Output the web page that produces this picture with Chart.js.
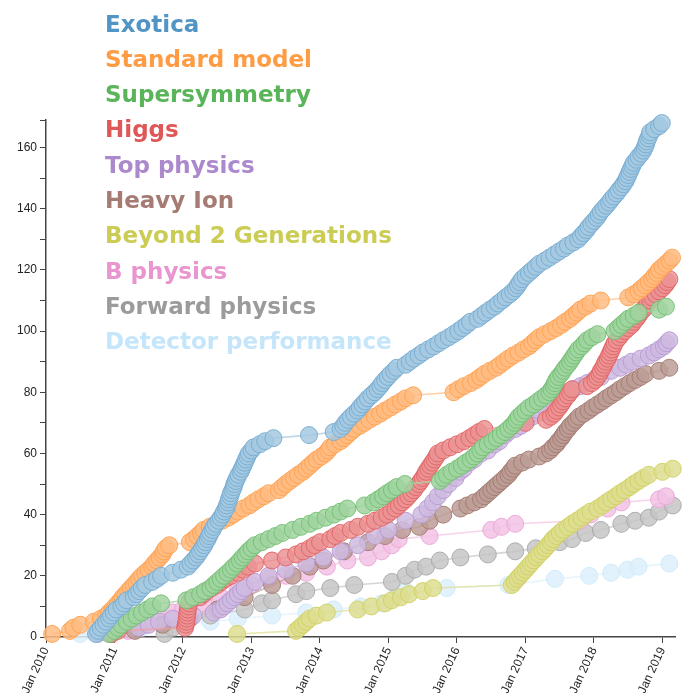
<!DOCTYPE html>
<html>
<head>
<meta charset="utf-8">
<script src="https://cdn.jsdelivr.net/npm/chart.js@4"></script>
<style>
  html, body { margin: 0; padding: 0; background: #fff; overflow: hidden; }
  #wrap { position: absolute; left: 0; top: 0; width: 685px; height: 693px; }
</style>
</head>
<body>
<div id="wrap"><canvas id="c" width="685" height="693"></canvas></div>
<script>
// Cumulative number of papers per physics group, as [decimal year, running count]
const seriesNames = ['Exotica', 'Standard model', 'Supersymmetry', 'Higgs', 'Top physics',
  'Heavy Ion', 'Beyond 2 Generations', 'B physics', 'Forward physics', 'Detector performance'];

const exotica = [[2010.73,1],[2010.76,2],[2010.80,3],[2010.84,4],[2010.88,5],[2010.92,6],[2010.95,7],[2010.99,8],[2011.03,9],[2011.10,10],[2011.14,11],[2011.18,12],[2011.28,13],[2011.32,14],[2011.36,15],[2011.40,16],[2011.45,17],[2011.55,18],[2011.62,19],[2011.68,20],[2011.85,21],[2011.97,22],[2012.07,23],[2012.11,24],[2012.15,25],[2012.19,26],[2012.22,27],[2012.25,28],[2012.28,29],[2012.31,30],[2012.33,31],[2012.36,32],[2012.38,33],[2012.40,34],[2012.43,35],[2012.45,36],[2012.48,37],[2012.52,38],[2012.55,39],[2012.58,40],[2012.60,41],[2012.63,42],[2012.64,43],[2012.66,44],[2012.67,45],[2012.69,46],[2012.70,47],[2012.72,48],[2012.74,49],[2012.75,50],[2012.77,51],[2012.79,52],[2012.81,53],[2012.84,54],[2012.86,55],[2012.88,56],[2012.90,57],[2012.92,58],[2012.94,59],[2012.96,60],[2013.00,61],[2013.03,62],[2013.12,63],[2013.20,64],[2013.32,65],[2013.84,66],[2014.20,67],[2014.30,68],[2014.34,69],[2014.37,70],[2014.41,71],[2014.45,72],[2014.50,73],[2014.55,74],[2014.58,75],[2014.62,76],[2014.66,77],[2014.70,78],[2014.75,79],[2014.80,80],[2014.84,81],[2014.88,82],[2014.91,83],[2014.95,84],[2014.99,85],[2015.03,86],[2015.08,87],[2015.12,88],[2015.25,89],[2015.31,90],[2015.37,91],[2015.44,92],[2015.50,93],[2015.58,94],[2015.66,95],[2015.73,96],[2015.80,97],[2015.88,98],[2015.95,99],[2016.02,100],[2016.08,101],[2016.14,102],[2016.19,103],[2016.30,104],[2016.36,105],[2016.42,106],[2016.48,107],[2016.55,108],[2016.60,109],[2016.66,110],[2016.71,111],[2016.77,112],[2016.82,113],[2016.86,114],[2016.89,115],[2016.92,116],[2016.95,117],[2017.00,118],[2017.05,119],[2017.10,120],[2017.15,121],[2017.20,122],[2017.28,123],[2017.35,124],[2017.42,125],[2017.49,126],[2017.56,127],[2017.62,128],[2017.70,129],[2017.77,130],[2017.81,131],[2017.85,132],[2017.89,133],[2017.92,134],[2017.96,135],[2018.00,136],[2018.04,137],[2018.07,138],[2018.10,139],[2018.14,140],[2018.18,141],[2018.22,142],[2018.25,143],[2018.29,144],[2018.33,145],[2018.36,146],[2018.40,147],[2018.43,148],[2018.46,149],[2018.48,150],[2018.50,151],[2018.52,152],[2018.54,153],[2018.56,154],[2018.58,155],[2018.62,156],[2018.65,157],[2018.69,158],[2018.72,159],[2018.74,160],[2018.76,161],[2018.77,162],[2018.79,163],[2018.81,164],[2018.82,165],[2018.88,166],[2018.95,167],[2018.99,168]];

const standardModel = [[2010.09,1],[2010.35,2],[2010.40,3],[2010.50,4],[2010.70,5],[2010.80,6],[2010.88,7],[2010.92,8],[2010.97,9],[2011.01,10],[2011.05,11],[2011.09,12],[2011.12,13],[2011.16,14],[2011.20,15],[2011.24,16],[2011.28,17],[2011.32,18],[2011.36,19],[2011.40,20],[2011.45,21],[2011.50,22],[2011.55,23],[2011.58,24],[2011.62,25],[2011.66,26],[2011.70,27],[2011.72,28],[2011.75,29],[2011.80,30],[2012.10,31],[2012.16,32],[2012.21,33],[2012.26,34],[2012.30,35],[2012.39,36],[2012.48,37],[2012.57,38],[2012.66,39],[2012.73,40],[2012.80,41],[2012.88,42],[2012.97,43],[2013.03,44],[2013.10,45],[2013.18,46],[2013.25,47],[2013.40,48],[2013.45,49],[2013.50,50],[2013.56,51],[2013.62,52],[2013.68,53],[2013.75,54],[2013.80,55],[2013.85,56],[2013.90,57],[2013.95,58],[2014.02,59],[2014.08,60],[2014.12,61],[2014.15,62],[2014.22,63],[2014.30,64],[2014.35,65],[2014.40,66],[2014.45,67],[2014.50,68],[2014.58,69],[2014.65,70],[2014.72,71],[2014.80,72],[2014.88,73],[2014.95,74],[2015.03,75],[2015.10,76],[2015.18,77],[2015.25,78],[2015.36,79],[2015.95,80],[2016.02,81],[2016.10,82],[2016.20,83],[2016.28,84],[2016.34,85],[2016.40,86],[2016.48,87],[2016.57,88],[2016.63,89],[2016.69,90],[2016.75,91],[2016.82,92],[2016.90,93],[2016.97,94],[2017.05,95],[2017.10,96],[2017.15,97],[2017.20,98],[2017.28,99],[2017.37,100],[2017.45,101],[2017.52,102],[2017.58,103],[2017.65,104],[2017.70,105],[2017.75,106],[2017.80,107],[2017.88,108],[2017.95,109],[2018.10,110],[2018.50,111],[2018.58,112],[2018.65,113],[2018.70,114],[2018.75,115],[2018.80,116],[2018.85,117],[2018.88,118],[2018.92,119],[2018.95,120],[2019.00,121],[2019.05,122],[2019.10,123],[2019.14,124]];

const supersymmetry = [[2010.92,1],[2011.00,2],[2011.05,3],[2011.10,4],[2011.18,5],[2011.25,6],[2011.32,7],[2011.40,8],[2011.48,9],[2011.55,10],[2011.68,11],[2012.05,12],[2012.15,13],[2012.25,14],[2012.32,15],[2012.40,16],[2012.45,17],[2012.50,18],[2012.55,19],[2012.60,20],[2012.65,21],[2012.70,22],[2012.74,23],[2012.79,24],[2012.83,25],[2012.87,26],[2012.91,27],[2012.95,28],[2013.00,29],[2013.05,30],[2013.15,31],[2013.25,32],[2013.35,33],[2013.45,34],[2013.60,35],[2013.72,36],[2013.85,37],[2013.95,38],[2014.08,39],[2014.20,40],[2014.30,41],[2014.40,42],[2014.65,43],[2014.78,44],[2014.85,45],[2014.92,46],[2014.98,47],[2015.05,48],[2015.12,49],[2015.24,50],[2015.75,51],[2015.80,52],[2015.85,53],[2015.92,54],[2016.00,55],[2016.07,56],[2016.13,57],[2016.20,58],[2016.25,59],[2016.30,60],[2016.34,61],[2016.38,62],[2016.45,63],[2016.52,64],[2016.58,65],[2016.64,66],[2016.70,67],[2016.75,68],[2016.80,69],[2016.84,70],[2016.87,71],[2016.90,72],[2016.95,73],[2017.00,74],[2017.05,75],[2017.12,76],[2017.18,77],[2017.24,78],[2017.30,79],[2017.35,80],[2017.38,81],[2017.41,82],[2017.43,83],[2017.45,84],[2017.48,85],[2017.52,86],[2017.55,87],[2017.58,88],[2017.62,89],[2017.65,90],[2017.68,91],[2017.71,92],[2017.74,93],[2017.77,94],[2017.82,95],[2017.86,96],[2017.90,97],[2017.97,98],[2018.05,99],[2018.30,100],[2018.35,101],[2018.40,102],[2018.45,103],[2018.50,104],[2018.58,105],[2018.65,106],[2018.95,107],[2019.05,108]];

const higgs = [[2010.96,1],[2011.05,2],[2012.03,3],[2012.04,4],[2012.05,5],[2012.055,6],[2012.06,7],[2012.065,8],[2012.07,9],[2012.08,10],[2012.09,11],[2012.10,12],[2012.25,13],[2012.30,14],[2012.35,15],[2012.42,16],[2012.50,17],[2012.56,18],[2012.62,19],[2012.70,20],[2012.80,21],[2012.88,22],[2012.95,23],[2013.05,24],[2013.30,25],[2013.50,26],[2013.65,27],[2013.75,28],[2013.85,29],[2013.92,30],[2014.00,31],[2014.15,32],[2014.22,33],[2014.30,34],[2014.45,35],[2014.55,36],[2014.70,37],[2014.80,38],[2014.90,39],[2014.98,40],[2015.04,41],[2015.10,42],[2015.15,43],[2015.20,44],[2015.25,45],[2015.29,46],[2015.33,47],[2015.37,48],[2015.40,49],[2015.44,50],[2015.47,51],[2015.50,52],[2015.53,53],[2015.55,54],[2015.58,55],[2015.61,56],[2015.64,57],[2015.67,58],[2015.70,59],[2015.72,60],[2015.80,61],[2015.90,62],[2016.00,63],[2016.10,64],[2016.18,65],[2016.25,66],[2016.32,67],[2016.40,68],[2016.80,69],[2017.00,70],[2017.30,71],[2017.37,72],[2017.42,73],[2017.45,74],[2017.49,75],[2017.52,76],[2017.55,77],[2017.58,78],[2017.62,79],[2017.65,80],[2017.68,81],[2017.90,82],[2017.97,83],[2018.02,84],[2018.05,85],[2018.08,86],[2018.10,87],[2018.13,88],[2018.15,89],[2018.17,90],[2018.20,91],[2018.22,92],[2018.24,93],[2018.26,94],[2018.28,95],[2018.30,96],[2018.33,97],[2018.37,98],[2018.40,99],[2018.45,100],[2018.50,101],[2018.55,102],[2018.58,103],[2018.62,104],[2018.65,105],[2018.68,106],[2018.72,107],[2018.75,108],[2018.78,109],[2018.82,110],[2018.85,111],[2018.90,112],[2018.95,113],[2019.00,114],[2019.04,115],[2019.07,116],[2019.10,117]];

const topPhysics = [[2010.75,1],[2010.82,2],[2011.35,3],[2011.50,4],[2011.65,5],[2011.85,6],[2012.15,7],[2012.45,8],[2012.55,9],[2012.60,10],[2012.65,11],[2012.70,12],[2012.75,13],[2012.80,14],[2012.85,15],[2012.90,16],[2013.05,18],[2013.25,20],[2013.50,22],[2013.80,24],[2014.05,26],[2014.30,28],[2014.55,30],[2014.80,33],[2015.00,35],[2015.25,38],[2015.48,40],[2015.57,42],[2015.65,44],[2015.72,46],[2015.80,48],[2015.88,50],[2015.98,52],[2016.04,54],[2016.10,55],[2016.18,57],[2016.25,58],[2016.35,60],[2016.45,61],[2016.55,63],[2016.62,64],[2016.70,66],[2016.75,67],[2016.85,68],[2016.93,69],[2017.02,71],[2017.10,72],[2017.20,74],[2017.30,75],[2017.40,77],[2017.50,78],[2017.60,80],[2017.70,81],[2017.80,82],[2017.90,83],[2018.00,84],[2018.10,85],[2018.25,87],[2018.38,88],[2018.47,89],[2018.55,90],[2018.68,91],[2018.80,92],[2018.88,93],[2018.95,94],[2019.02,95],[2019.06,96],[2019.10,97]];

const heavyIon = [[2010.95,1],[2011.30,2],[2011.70,4],[2012.10,6],[2012.50,9],[2012.90,13],[2013.30,17],[2013.60,20],[2013.85,23],[2014.05,25],[2014.35,28],[2014.70,31],[2014.95,33],[2015.20,35],[2015.45,36],[2015.60,38],[2015.80,40],[2016.05,42],[2016.15,43],[2016.25,44],[2016.35,45],[2016.40,46],[2016.45,47],[2016.50,48],[2016.55,49],[2016.60,50],[2016.65,51],[2016.70,52],[2016.75,53],[2016.78,54],[2016.82,55],[2016.85,56],[2016.95,57],[2017.05,58],[2017.20,59],[2017.30,60],[2017.36,61],[2017.40,62],[2017.45,63],[2017.48,64],[2017.52,65],[2017.55,66],[2017.58,67],[2017.62,68],[2017.65,69],[2017.70,70],[2017.74,71],[2017.78,72],[2017.85,73],[2017.92,74],[2017.98,75],[2018.05,76],[2018.12,77],[2018.18,78],[2018.25,79],[2018.32,80],[2018.38,81],[2018.45,82],[2018.52,83],[2018.60,84],[2018.68,85],[2018.75,86],[2018.95,87],[2019.10,88]];

const beyondTwoGenerations = [[2012.79,1],[2013.65,2],[2013.70,3],[2013.75,4],[2013.80,5],[2013.85,6],[2013.95,7],[2014.10,8],[2014.55,9],[2014.75,10],[2014.95,11],[2015.05,12],[2015.18,13],[2015.30,14],[2015.50,15],[2015.65,16],[2016.80,17],[2016.84,18],[2016.88,19],[2016.92,20],[2016.96,21],[2017.00,22],[2017.04,23],[2017.08,24],[2017.12,25],[2017.16,26],[2017.20,27],[2017.25,28],[2017.29,29],[2017.33,30],[2017.37,31],[2017.40,32],[2017.45,33],[2017.50,34],[2017.55,35],[2017.62,36],[2017.68,37],[2017.75,38],[2017.82,39],[2017.88,40],[2017.95,41],[2018.05,42],[2018.12,43],[2018.18,44],[2018.25,45],[2018.32,46],[2018.38,47],[2018.45,48],[2018.52,49],[2018.58,50],[2018.65,51],[2018.72,52],[2018.80,53],[2019.00,54],[2019.15,55]];

const bPhysics = [[2010.95,1],[2011.20,2],[2011.45,4],[2011.70,6],[2011.85,8],[2012.00,9],[2012.30,11],[2012.55,13],[2012.80,15],[2013.00,17],[2013.25,19],[2013.50,20],[2013.80,21],[2014.10,23],[2014.40,25],[2014.70,26],[2014.90,28],[2015.05,30],[2015.15,32],[2015.60,33],[2016.50,35],[2016.65,36],[2016.85,37],[2017.80,38],[2017.95,40],[2018.20,42],[2018.40,44],[2018.95,45],[2019.05,46]];

const forwardPhysics = [[2011.73,1],[2011.85,3],[2012.05,5],[2012.40,7],[2012.90,9],[2013.15,11],[2013.30,12],[2013.65,14],[2013.80,15],[2014.15,16],[2014.50,17],[2015.05,18],[2015.25,20],[2015.38,22],[2015.55,23],[2015.75,25],[2016.05,26],[2016.45,27],[2016.85,28],[2017.15,29],[2017.50,31],[2017.68,32],[2017.88,34],[2018.10,35],[2018.40,37],[2018.60,38],[2018.80,39],[2018.95,41],[2019.15,43]];

const detectorPerformance = [[2010.50,1],[2010.80,2],[2011.40,3],[2011.90,4],[2012.40,5],[2012.80,6],[2013.30,7],[2013.80,8],[2014.20,9],[2014.60,10],[2014.90,11],[2015.10,13],[2015.25,15],[2015.85,16],[2016.75,17],[2017.43,19],[2017.93,20],[2018.25,21],[2018.49,22],[2018.65,23],[2019.10,24]];

const seriesData = [exotica, standardModel, supersymmetry, higgs, topPhysics,
  heavyIon, beyondTwoGenerations, bPhysics, forwardPhysics, detectorPerformance];

const xTickYears = [2010, 2011, 2012, 2013, 2014, 2015, 2016, 2017, 2018, 2019];
const xTickLabels = ['Jan 2010', 'Jan 2011', 'Jan 2012', 'Jan 2013', 'Jan 2014',
  'Jan 2015', 'Jan 2016', 'Jan 2017', 'Jan 2018', 'Jan 2019'];
const yTickValues = [0, 10, 20, 30, 40, 50, 60, 70, 80, 90, 100, 110, 120, 130, 140, 150, 160];

// Styling
const palette = ['#1f77b4', '#ff7f0e', '#2ca02c', '#d62728', '#9467bd',
  '#8c564b', '#bcbd22', '#e377c2', '#7f7f7f', '#b4def9'];
const fillStrength = [0.40, 0.52, 0.45, 0.50, 0.45, 0.58, 0.50, 0.45, 0.45, 0.45];

function mix(hex, k, alpha) {
  const n = parseInt(hex.slice(1), 16);
  const r = (n >> 16) & 255, g = (n >> 8) & 255, b = n & 255;
  const f = c => Math.round(255 - (255 - c) * k);
  return `rgba(${f(r)},${f(g)},${f(b)},${alpha})`;
}

const X_MIN = 2010, X_MAX = 2019.19, Y_MAX = 169;

const datasets = seriesData.map((pts, i) => ({
  label: seriesNames[i],
  data: pts.map(([x, y]) => ({ x, y })),
  borderColor: mix(palette[i], fillStrength[i] * 0.9, 0.8),
  borderWidth: 1.6,
  pointRadius: 8.5,
  pointHoverRadius: 8.5,
  pointBackgroundColor: mix(palette[i], fillStrength[i], 0.85),
  pointBorderColor: mix(palette[i], Math.min(1, fillStrength[i] + 0.22), 0.9),
  pointBorderWidth: 1,
  tension: 0,
  fill: false,
  clip: false
}));

// Coloured group names stacked in the upper-left corner
const groupLabels = {
  id: 'groupLabels',
  afterDatasetsDraw(chart) {
    const ctx = chart.ctx;
    ctx.save();
    ctx.font = 'bold 23px "DejaVu Sans", Verdana, sans-serif';
    ctx.textAlign = 'left';
    ctx.textBaseline = 'alphabetic';
    seriesNames.forEach((name, i) => {
      ctx.fillStyle = mix(palette[i], 0.78, 1);
      ctx.fillText(name, 105, 31.5 + i * 35.3);
    });
    ctx.restore();
  }
};

const axisColor = '#444';
const tickFont = { family: '"Liberation Sans", Arial, sans-serif', size: 12 };

new Chart(document.getElementById('c'), {
  type: 'line',
  data: { datasets },
  plugins: [groupLabels],
  options: {
    responsive: false,
    animation: false,
    devicePixelRatio: 1,
    layout: { padding: { top: 120, right: 0, bottom: 0, left: 0 } },
    plugins: { legend: { display: false }, tooltip: { enabled: false } },
    scales: {
      x: {
        type: 'linear',
        min: X_MIN,
        max: X_MAX,
        afterBuildTicks: scale => { scale.ticks = xTickYears.map(v => ({ value: v })); },
        afterFit: scale => { scale.height = 56; scale.paddingLeft = 0; scale.paddingRight = 0; },
        ticks: {
          autoSkip: false,
          minRotation: 65,
          maxRotation: 65,
          padding: 2,
          color: '#222',
          font: tickFont,
          callback: v => {
            const idx = xTickYears.indexOf(v);
            return idx >= 0 ? xTickLabels[idx] : '';
          }
        },
        grid: { drawOnChartArea: false, drawTicks: true, tickLength: 6, color: axisColor, lineWidth: 1 },
        border: { display: true, color: axisColor, width: 1.5 }
      },
      y: {
        type: 'linear',
        min: 0,
        max: Y_MAX,
        afterBuildTicks: scale => {
          scale.ticks = yTickValues.concat([Y_MAX]).map(v => ({ value: v }));
        },
        afterFit: scale => { scale.width = 46; scale.paddingTop = 0; scale.paddingBottom = 0; },
        ticks: {
          padding: 3,
          color: '#222',
          font: tickFont,
          callback: v => (v % 20 === 0 ? String(v) : '')
        },
        grid: { drawOnChartArea: false, drawTicks: true, tickLength: 6, color: axisColor, lineWidth: 1 },
        border: { display: true, color: axisColor, width: 1.5 }
      }
    }
  }
});
</script>
</body>
</html>
